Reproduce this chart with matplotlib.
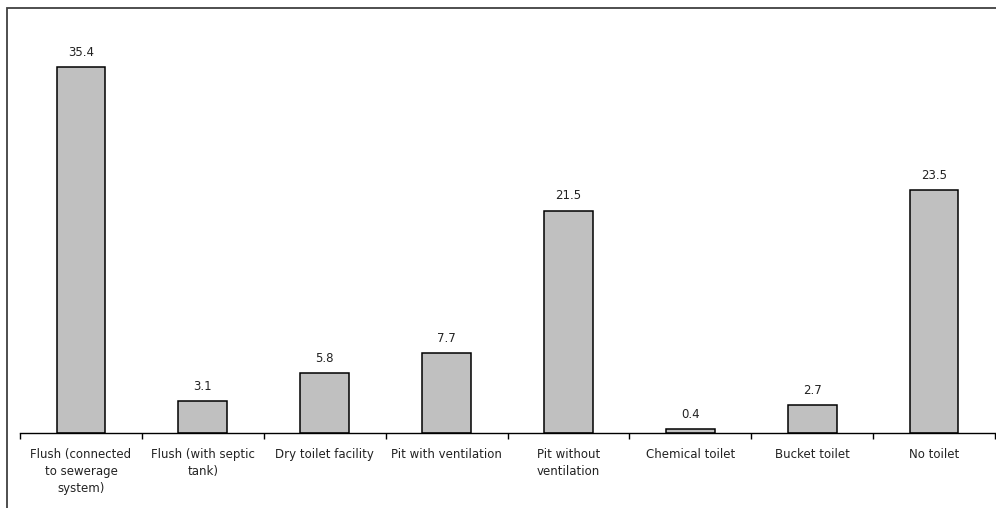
import matplotlib.pyplot as plt
from matplotlib.patches import Rectangle

categories = ['Flush (connected\nto sewerage\nsystem)', 'Flush (with septic\ntank)',
              'Dry toilet facility', 'Pit with ventilation', 'Pit without\nventilation',
              'Chemical toilet', 'Bucket toilet', 'No toilet']
values = [35.4, 3.1, 5.8, 7.7, 21.5, 0.4, 2.7, 23.5]

plt.rcParams['font.family'] = ['DejaVu Sans']

fig = plt.figure(figsize=(9.96, 5.08), dpi=100)
ax = fig.add_axes([0.0201, 0.1476, 0.9789, 0.8138])

x = list(range(len(values)))
bars = ax.bar(x, values, width=0.4, color='#c0c0c0', edgecolor='black', linewidth=1.1)
for xi, v in zip(x, values):
    ax.annotate(f'{v:.1f}', (xi, v), xytext=(0, 6), textcoords='offset points',
                ha='center', va='bottom', fontsize=8.5, color='#222222')

ax.set_xlim(-0.5, len(values) - 0.5)
ax.set_ylim(0, 40)
ax.set_yticks([])
for s in ['top', 'right', 'left']:
    ax.spines[s].set_visible(False)
ax.spines['bottom'].set_linewidth(1.0)

# category boundaries carry the ticks, labels sit under the bars
ax.set_xticks([i - 0.5 for i in range(len(values) + 1)])
ax.set_xticklabels([])
ax.tick_params(axis='x', length=4, width=1.0, direction='out', color='black')
for xi, lab in zip(x, categories):
    ax.annotate(lab, (xi, 0), xytext=(0, -10.5), textcoords='offset points',
                ha='center', va='top', fontsize=8.5, color='#222222',
                linespacing=1.42, annotation_clip=False)

# outer chart frame (cut off at right and bottom)
fig.patches.append(Rectangle((7 / 996, -0.1), 1.2, 1 - 8 / 508 + 0.1,
                             transform=fig.transFigure, fill=False,
                             edgecolor='#404040', linewidth=1.3))

fig.savefig('out.png', dpi=100)
